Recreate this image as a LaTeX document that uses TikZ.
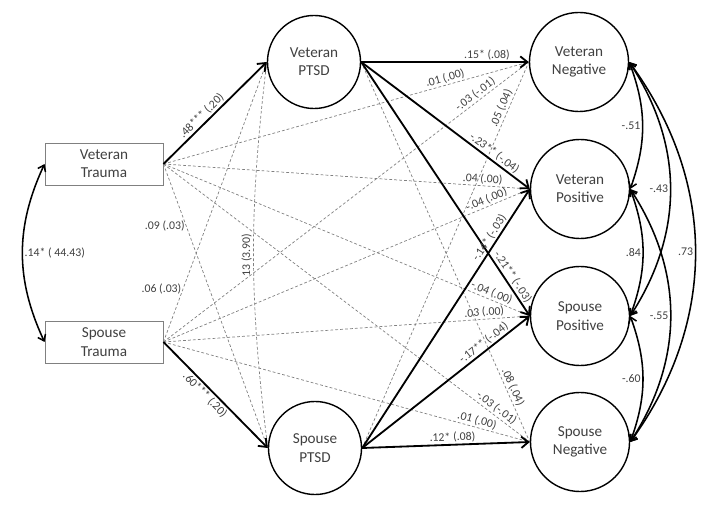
\documentclass[tikz,border=0pt]{standalone}
\usepackage{fontspec}
\setmainfont{Carlito}
\usepackage{tikz}
\usetikzlibrary{arrows.meta,calc}
\definecolor{textgrau}{HTML}{404040}
\definecolor{liniengrau}{HTML}{808080}
\tikzset{
  kasten/.style={draw=liniengrau,line width=0.6pt,minimum width=2.95cm,minimum height=1.05cm,
    align=center,text=textgrau,font=\fontsize{10.8}{13}\selectfont},
  kreis/.style={circle,draw=black,line width=1pt,minimum size=#1,inner sep=0pt,
    align=center,text=textgrau,font=\fontsize{10.8}{13}\selectfont},
  pfad/.style={line width=1.3pt,-{Straight Barb[length=5pt,width=8pt]}},
  gestrichelt/.style={liniengrau,line width=0.5pt,dash pattern=on 2pt off 1.5pt},
  kov/.style={line width=1.1pt,{Straight Barb[length=4pt,width=6pt]}-{Straight Barb[length=4pt,width=6pt]}},
  wert/.style={font=\fontsize{8.4}{9.5}\selectfont,text=textgrau,inner sep=1pt}
}
\begin{document}
\begin{tikzpicture}[x=0.025cm,y=-0.025cm]
\useasboundingbox (0,0) rectangle (709,510);
%Koordinaten in Pixeln des Originals, y nach unten
\node[kasten] (vt) at (104,164) {Veteran\\Trauma};
\node[kasten] (st) at (104,342) {Spouse\\Trauma};
\node[kreis=2.325cm] (vptsd) at (314,62) {Veteran\\PTSD};
\node[kreis=2.325cm] (sptsd) at (315,448) {Spouse\\PTSD};
\node[kreis=2.475cm] (vneg) at (579,62) {Veteran\\Negative};
\node[kreis=2.475cm] (vpos) at (580,189) {Veteran\\Positive};
\node[kreis=2.475cm] (spos) at (580,316) {Spouse\\Positive};
\node[kreis=2.475cm] (sneg) at (580,442) {Spouse\\Negative};
%nicht signifikante Pfade gestrichelt
\foreach \von/\nach/\p/\w in {vt/vneg/0.776/.01 (.00), st/vneg/0.865/-.03 (-.01), sptsd/vneg/0.873/.05 (.04),
  vt/vpos/0.87/.04 (.00), st/vpos/0.889/-.04 (.00), vt/spos/0.889/-.04 (.00), st/spos/0.877/.03 (.00),
  vptsd/sneg/0.863/.08 (.04), vt/sneg/0.898/-.03 (-.01), st/sneg/0.851/.01 (.00)}{
\draw[gestrichelt] (\von.east) -- node[wert,sloped,above,pos=\p] {\w} (\nach.west);
}
\draw[gestrichelt] (vt.east) -- node[wert,left,pos=0.22] {.09 (.03)} (sptsd.west);
\draw[gestrichelt] (st.east) -- node[wert,left,pos=0.19] {.06 (.03)} (vptsd.west);
\draw[gestrichelt] (vptsd.west) to[bend right=7] node[wert,rotate=90,above] {13 (3.90)} (sptsd.west);
%signifikante Pfade
\draw[pfad] (vt.east) -- node[wert,sloped,above,pos=0.42] {.48*** (.20)} (vptsd.west);
\draw[pfad] (st.east) -- node[wert,sloped,below,pos=0.45] {.60*** (.20)} (sptsd.west);
\foreach \von/\nach/\p/\w in {vptsd/vneg/0.75/.15* (.08), vptsd/vpos/0.763/-.23** (-.04), vptsd/spos/0.862/-.21** (-.03),
  sptsd/vpos/0.796/-.14* (-.03), sptsd/spos/0.752/-.17** (-.04), sptsd/sneg/0.54/.12* (.08)}{
\draw[pfad] (\von.east) -- node[wert,sloped,above,pos=\p] {\w} (\nach.west);
}
%Kovarianzen
\draw[kov] (vt.west) to[bend right=25] node[wert,right] {.14* ( 44.43)} (st.west);
\draw[kov] (vneg.east) to[bend left=20] node[wert,left] {-.51} (vpos.east);
\draw[kov] (vneg.east) to[bend left=33] node[wert,left] {-.43} (spos.east);
\draw[kov] (vneg.east) to[bend left=36] node[wert,left] {.73} (sneg.east);
\draw[kov] (vpos.east) to[bend left=20] node[wert,left] {.84} (spos.east);
\draw[kov] (vpos.east) to[bend left=33] node[wert,left] {-.55} (sneg.east);
\draw[kov] (spos.east) to[bend left=20] node[wert,left] {-.60} (sneg.east);
\end{tikzpicture}
\end{document}
